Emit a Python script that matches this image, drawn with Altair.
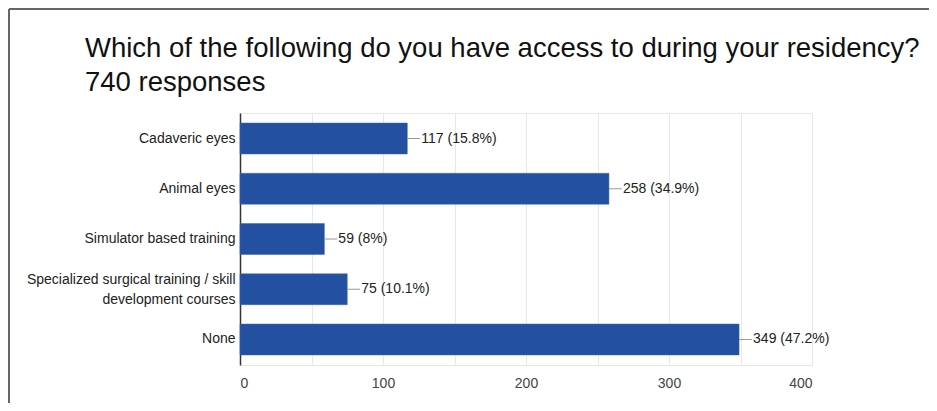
import altair as alt
import pandas as pd

categories = [
    "Cadaveric eyes",
    "Animal eyes",
    "Simulator based training",
    "Specialized surgical training / skill development courses",
    "None",
]
counts = [117, 258, 59, 75, 349]
percents = ["15.8%", "34.9%", "8%", "10.1%", "47.2%"]
grid_values = [0, 50, 100, 150, 200, 250, 300, 350, 400]

title_text = "Which of the following do you have access to during your residency?"
subtitle_text = "740 responses"

df = pd.DataFrame({"category": categories, "count": counts, "pct": percents})
df["label"] = df["count"].astype(str) + " (" + df["pct"] + ")"

FONT = "Liberation Sans"
BAR = "#2350a0"
LONG = "Specialized surgical training / skill development courses"

label_expr = (
    f"datum.label == '{LONG}'"
    " ? ['Specialized surgical training / skill', 'development courses'] : datum.label"
)

y_enc = alt.Y(
    "category:N",
    sort=categories,
    title=None,
    scale=alt.Scale(paddingInner=0.385, paddingOuter=0.2),
    axis=alt.Axis(
        labelExpr=label_expr,
        labelFont=FONT,
        labelFontSize=14,
        labelColor="#222222",
        labelPadding=5,
        labelLimit=400,
        labelLineHeight=20,
        labelOffset={"condition": {"test": f"datum.value == '{LONG}'", "value": -9}, "value": 0},
        ticks=False,
        domainColor="#333333",
        domainWidth=1.5,
        grid=False,
    ),
)

x_enc = alt.X(
    "count:Q",
    title=None,
    scale=alt.Scale(domain=[0, 400], nice=False),
    axis=alt.Axis(
        values=grid_values,
        labelExpr="datum.value % 100 == 0 ? datum.label : ''",
        labelFont=FONT,
        labelFontSize=14,
        labelColor="#444444",
        labelPadding=11,
        ticks=False,
        domain=False,
        grid=True,
        gridColor="#e8e8e8",
        gridWidth=1,
    ),
)

base = alt.Chart(df)

bars = base.mark_bar(color=BAR, stroke="#3a63b0", strokeWidth=0.5).encode(x=x_enc, y=y_enc)

leaders = base.transform_calculate(end="datum.count + 9").mark_rule(
    color="#999999", strokeWidth=1
).encode(x="count:Q", x2="end:Q", y=alt.Y("category:N", sort=categories))

texts = base.mark_text(
    align="left", baseline="middle", dx=14, font=FONT, fontSize=14, color="#222222"
).encode(x="count:Q", y=alt.Y("category:N", sort=categories), text="label:N")

title_mark = (
    alt.Chart(pd.DataFrame({"t": [title_text]}))
    .mark_text(align="left", baseline="alphabetic", font=FONT, fontSize=27.5, color="#111111")
    .encode(text="t:N", x=alt.value(-155), y=alt.value(-56))
)
subtitle_mark = (
    alt.Chart(pd.DataFrame({"t": [subtitle_text]}))
    .mark_text(align="left", baseline="alphabetic", font=FONT, fontSize=27.5, color="#111111")
    .encode(text="t:N", x=alt.value(-155), y=alt.value(-22))
)

frame_top = base.mark_rule(color="#666666", strokeWidth=1.5).encode(
    x=alt.value(-231), x2=alt.value(700), y=alt.value(-104)
)
frame_left = base.mark_rule(color="#666666", strokeWidth=1.5).encode(
    x=alt.value(-231), y=alt.value(-104), y2=alt.value(300)
)

chart = (
    alt.layer(bars, leaders, texts, title_mark, subtitle_mark, frame_top, frame_left)
    .properties(
        width=572,
        height=252,
        autosize=alt.AutoSizeParams(type="none"),
        padding={"left": 232, "top": 105, "right": 117, "bottom": 38},
    )
    .configure_view(stroke="#e6e6e6")
)

chart.save("out.html", embed_options={"renderer": "svg", "actions": False})
